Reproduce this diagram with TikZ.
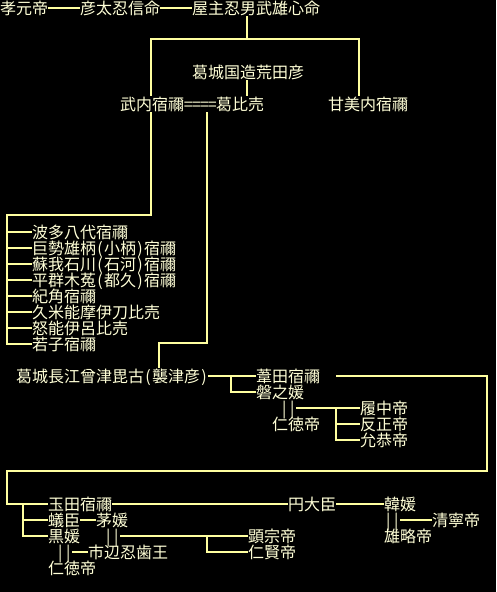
\documentclass[tikz,border=0pt]{standalone}
\usepackage{fontspec}
\newfontfamily\jp{Noto Sans CJK JP}
\definecolor{linec}{RGB}{255,255,160}
\definecolor{txtc}{RGB}{255,255,215}
\newcommand\hw[1]{\makebox[8pt]{#1}}
\tikzset{
  lbl/.style={anchor=west, inner sep=0pt, text height=14pt, text depth=2pt,
    font=\jp\fontsize{16pt}{16pt}\selectfont, text=txtc},
  conn/.style={draw=linec, line width=2pt}
}
\begin{document}
\begin{tikzpicture}[x=1pt,y=-1pt]
\fill[black] (0,0) rectangle (496,592);
\useasboundingbox (0,0) rectangle (496,592);
% row 0
\node[lbl] (kogen) at (0,8) {孝元帝};
\node[lbl] (hiko) at (80,8) {彦太忍信命};
\node[lbl] (yanushi) at (192,8) {屋主忍男武雄心命};
% rows 4-6
\node[lbl] (arata) at (192,72) {葛城国造荒田彦};
\node[lbl] (takeuchi) at (120,104) {武内宿禰};
\node[lbl] (eq) at (184,104) {\hw{=}\hw{=}\hw{=}\hw{=}};
\node[lbl] (kazu) at (216,104) {葛比売};
\node[lbl] (umashi) at (328,104) {甘美内宿禰};
% children list
\node[lbl] (c1) at (32,232) {波多八代宿禰};
\node[lbl] (c2) at (32,248) {巨勢雄柄\hw{(}小柄\hw{)}宿禰};
\node[lbl] (c3) at (32,264) {蘇我石川\hw{(}石河\hw{)}宿禰};
\node[lbl] (c4) at (32,280) {平群木菟\hw{(}都久\hw{)}宿禰};
\node[lbl] (c5) at (32,296) {紀角宿禰};
\node[lbl] (c6) at (32,312) {久米能摩伊刀比売};
\node[lbl] (c7) at (32,328) {怒能伊呂比売};
\node[lbl] (c8) at (32,344) {若子宿禰};
% sotsuhiko
\node[lbl] (sotsu) at (16,376) {葛城長江曾津毘古\hw{(}襲津彦\hw{)}};
\node[lbl] (ashida) at (256,376) {葦田宿禰};
\node[lbl] (iwa) at (256,392) {磐之媛};
\node[lbl] (m1) at (280,408) {\hw{|}\hw{|}};
\node[lbl] (nintoku1) at (272,424) {仁徳帝};
\node[lbl] (richu) at (360,408) {履中帝};
\node[lbl] (hanzei) at (360,424) {反正帝};
\node[lbl] (ingyo) at (360,440) {允恭帝};
% bottom
\node[lbl] (tamada) at (48,504) {玉田宿禰};
\node[lbl] (tsubura) at (288,504) {円大臣};
\node[lbl] (karahime) at (384,504) {韓媛};
\node[lbl] (ari) at (48,520) {蟻臣};
\node[lbl] (chinu) at (96,520) {茅媛};
\node[lbl] (m2) at (384,520) {\hw{|}\hw{|}};
\node[lbl] (seinei) at (432,520) {清寧帝};
\node[lbl] (kuro) at (48,536) {黒媛};
\node[lbl] (m3) at (104,536) {\hw{|}\hw{|}};
\node[lbl] (kenzo) at (248,536) {顕宗帝};
\node[lbl] (yuryaku) at (384,536) {雄略帝};
\node[lbl] (m4) at (56,552) {\hw{|}\hw{|}};
\node[lbl] (ichinobe) at (88,552) {市辺忍歯王};
\node[lbl] (ninken) at (248,552) {仁賢帝};
\node[lbl] (nintoku2) at (48,568) {仁徳帝};
% junction coordinates
\coordinate (j1) at (247,39);
\coordinate (jl) at (151,39);
\coordinate (jr) at (359,39);
\coordinate (jb) at (151,215);
\coordinate (jc) at (7,215);
\coordinate (je) at (207,343);
\coordinate (jf) at (159,343);
\coordinate (jg) at (231,0);
\coordinate (jh) at (487,0);
\coordinate (ji) at (7,471);
\coordinate (jk) at (23,0);
\coordinate (jm) at (207,0);
\coordinate (jn) at (336,0);
% connectors
\draw[conn] (kogen.east) -- (hiko.west);
\draw[conn] (hiko.east) -- (yanushi.west);
\draw[conn] (yanushi.south -| j1) -- (j1);
\draw[conn] (takeuchi.north -| jl) -- (jl) -- (jr) -- (umashi.north -| jr);
\draw[conn] (arata.south -| j1) -- (kazu.north -| j1);
\draw[conn] (takeuchi.south -| jb) -- (jb) -- (jc) |- (c8.west);
\foreach \i in {1,...,7} {\draw[conn] (c\i.west -| jc) -- (c\i.west);}
\draw[conn] (eq.south -| je) -- (je) -- (jf) -- (sotsu.north -| jf);
\draw[conn] (sotsu.east) -- (ashida.west);
\draw[conn] (sotsu.east -| jg) |- (iwa.west);
\draw[conn] ([xshift=16pt]ashida.east) -| (jh |- ji) -- (ji) |- (tamada.west);
\draw[conn] (m1.east) -- (richu.west);
\draw[conn] (richu.west -| jn) |- (ingyo.west);
\draw[conn] (hanzei.west -| jn) -- (hanzei.west);
\draw[conn] (tamada.west -| jk) |- (kuro.west);
\draw[conn] (ari.west -| jk) -- (ari.west);
\draw[conn] (tamada.east) -- (tsubura.west);
\draw[conn] (tsubura.east) -- (karahime.west);
\draw[conn] (m2.east) -- (seinei.west);
\draw[conn] (ari.east) -- (chinu.west);
\draw[conn] (m3.east) -- (kenzo.west);
\draw[conn] (kenzo.west -| jm) |- (ninken.west);
\draw[conn] (m4.east) -- (ichinobe.west);
\end{tikzpicture}
\end{document}
